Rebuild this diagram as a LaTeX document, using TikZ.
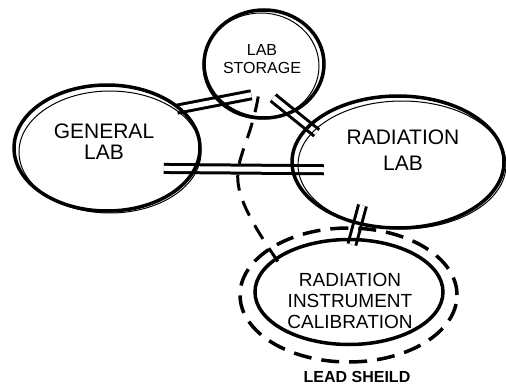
\documentclass[tikz,border=0pt]{standalone}
\usepackage{fontspec}
\setmainfont{Liberation Sans}
\usetikzlibrary{shapes.geometric}
\pgfdeclarelayer{background}
\pgfsetlayers{background,main}
\begin{document}
\begin{tikzpicture}[x=1pt,y=-1pt,
  room/.style={ellipse, draw, line width=3.5pt, inner sep=0pt},
  ghost/.style={line width=1pt},
  link/.style={double, double distance=5pt, line width=3pt},
  dashlink/.style={line width=3pt, dash pattern=on 16pt off 11pt},
  shieldring/.style={ellipse, draw, line width=3.5pt, dash pattern=on 18pt off 10pt, inner sep=0pt},
  lbl/.style={align=center, inner sep=0pt, font=\fontsize{21}{21}\selectfont},
]
\useasboundingbox (0,0) rectangle (506,388);

% rooms
\node[room, minimum width=120pt, minimum height=108pt] (storage) at (264,64) {};
\node[room, minimum width=186pt, minimum height=126pt] (general) at (107,148) {};
\node[room, minimum width=212pt, minimum height=132pt] (radlab) at (398,162) {};
\node[room, minimum width=188pt, minimum height=105pt] (calib) at (349,292) {};
\node[shieldring, minimum width=217pt, minimum height=134pt] (shield) at (348.5,295) {};

% sketchy second strokes
\draw[ghost] ([shift={(-3,2)}]storage.center) ellipse [x radius=58pt, y radius=53pt];
\draw[ghost] ([shift={(3,4)}]general.center) ellipse [x radius=91pt, y radius=61pt];
\draw[ghost] ([shift={(4,3)}]radlab.center) ellipse [x radius=104pt, y radius=64pt];

% labels
\node[lbl, font=\fontsize{16}{18}\selectfont] (stotxt) at (262,59) {LAB\\STORAGE};
\node[lbl] (gentxt) at (104,142) {GENERAL\\LAB};
\node[lbl, font=\fontsize{21}{26}\selectfont] (radtxt) at (403,150) {RADIATION\\LAB};
\node[lbl, font=\fontsize{19}{21}\selectfont] (caltxt) at (350,301) {RADIATION\\INSTRUMENT\\CALIBRATION};
\node[inner sep=0pt, font=\fontsize{16}{16}\selectfont\bfseries] (shieldtxt) at (357,377) {LEAD SHEILD};

% connections between rooms
\begin{pgfonlayer}{background}
\draw[link, shorten <=-5pt, shorten >=-34pt] (general.28) -- (storage.219);
\draw[link, shorten <=-25pt, shorten >=-12pt] (storage.300) -- (radlab.158);
\draw[link, shorten <=-33pt, shorten >=-33pt] (general.-13.5) -- (radlab.184);
\draw[link, shorten <=-20pt, shorten >=-7pt] (radlab.237) -- (calib.85);
\draw[dashlink, shorten <=33pt, shorten >=-12pt] (storage.center) to[out=260,in=125,looseness=1.5] (calib.155);
\end{pgfonlayer}
\end{tikzpicture}
\end{document}
